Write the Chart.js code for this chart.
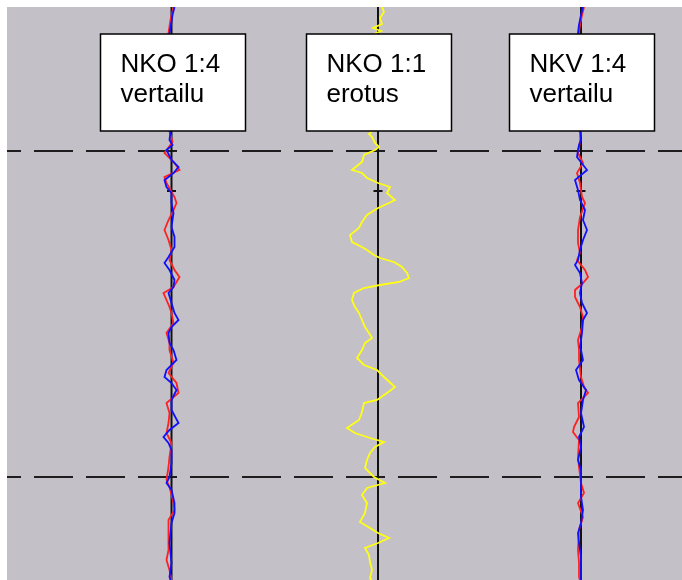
<!DOCTYPE html>
<html>
<head>
<meta charset="utf-8">
<script src="https://cdn.jsdelivr.net/npm/chart.js@4"></script>
<style>
  html, body { margin: 0; padding: 0; background: #ffffff; }
  #wrap { width: 682px; height: 580px; }
</style>
</head>
<body>
<div id="wrap"><canvas id="c" width="682" height="580"></canvas></div>
<script>
// ---- data (time axis runs downward; amplitude = offset from channel baseline) ----
const channelBase = [164.5, 371, 574];
const channelLabels = [["NKO 1:4", "vertailu"], ["NKO 1:1", "erotus"], ["NKV 1:4", "vertailu"]];
const gridLevels = [144, 470];
const tickLevels = [184];

const red1T = [0,13,26,73,124,135,146,156,163,170,176,190,196,203,213,223,233,243,253,263,270,280,286,293,300,306,316,326,336,343,356,366,376,386,396,406,416,426,436,450,460,473,480,496,503,513,523,543,553,563,573];
const red1V = [2,-1,-3,0,-2,1,-7,3,8,-7,-5,3,5,2,-3,-7,-3,0,-2,3,8,2,-8,-5,-2,0,2,-5,-2,-2,2,-3,5,7,-5,-2,-3,-5,0,-2,-3,-5,-2,2,3,-3,-3,-3,-5,-2,0];

const blue1T = [0,8,15,21,26,73,124,133,138,143,153,160,166,173,180,186,196,206,220,230,240,250,256,263,273,280,286,296,306,313,320,326,336,343,353,363,370,376,383,393,403,416,423,430,436,443,456,470,476,483,496,506,516,536,556,570,573];
const blue1V = [3,1,0,-1,-2,0,-1,-2,1,-5,0,7,2,-7,-5,0,0,2,0,3,3,-3,-7,-2,3,2,-3,0,3,7,0,-3,-2,2,5,-5,-7,0,5,0,0,7,-2,-8,-3,0,0,-2,-5,0,3,3,0,-2,0,-2,-1];

const yellowT = [0,5,11,17,21,24,27,53,93,124,127,130,136,140,143,148,155,163,166,171,176,180,186,193,196,201,208,215,221,228,235,240,243,248,251,255,260,266,271,275,278,281,286,293,300,306,313,320,326,331,336,343,351,358,363,370,380,386,393,396,405,413,421,426,431,435,440,446,453,461,470,476,481,488,496,506,515,521,526,531,536,541,548,555,563,571,573];
const yellowV = [4,6,2,4,-5,3,-4,-2,1,-6,-9,-6,-3,1,-3,-14,-16,-26,-16,-11,0,12,9,17,11,0,-11,-16,-19,-28,-26,-16,-11,-4,2,16,24,29,31,21,2,-14,-24,-26,-23,-19,-16,-13,-9,-6,-13,-16,-21,-14,-1,6,17,9,-1,-14,-16,-19,-31,-23,-8,6,-3,-8,-11,-13,-4,7,-11,-16,-11,-13,-18,-8,0,11,0,-13,-9,-8,-6,-8,-7];

const red3T = [0,8,18,26,73,124,135,146,156,166,176,190,196,210,223,236,246,253,263,270,276,283,290,300,310,320,333,343,353,370,380,386,396,410,420,425,433,450,460,476,486,496,510,523,543,556,570,573];
const red3V = [3,1,-1,-2,0,0,-1,-3,2,-4,-1,1,4,-1,-3,-3,-1,-4,4,7,2,-6,-6,-1,2,1,-3,-2,-2,0,3,7,-3,-2,-7,-8,-2,-3,-2,0,3,-3,2,-2,-3,-2,-2,-1];

const blue3T = [0,8,18,26,73,124,133,138,143,150,163,173,183,193,203,213,223,233,243,253,258,266,276,286,296,306,313,326,340,343,353,363,373,383,393,406,420,430,440,453,463,476,490,503,516,526,536,550,570,573];
const blue3V = [2,0,-2,-3,0,-1,0,-2,-3,-4,6,-6,-3,-1,4,2,6,2,-1,-3,-6,-1,1,-1,1,6,2,1,-1,0,2,-5,-2,5,2,0,3,-2,0,-3,0,0,0,2,0,-3,-2,0,0,0];

// ---- build datasets ----
function trace(ts, vs, ch) {
  return ts.map((t, i) => ({ x: channelBase[ch] + vs[i], y: t }));
}
const X_MIN = 0, X_MAX = 675, T_MIN = 0, T_MAX = 573;

const datasets = [];
const traceStyle = { showLine: true, pointRadius: 0, borderWidth: 1.8, tension: 0, fill: false };
datasets.push(Object.assign({ data: trace(yellowT, yellowV, 1), borderColor: '#ffff14', order: 1 }, traceStyle));
datasets.push(Object.assign({ data: trace(blue1T, blue1V, 0), borderColor: '#1010ff', order: 2 }, traceStyle));
datasets.push(Object.assign({ data: trace(blue3T, blue3V, 2), borderColor: '#1010ff', order: 2 }, traceStyle));
datasets.push(Object.assign({ data: trace(red1T, red1V, 0), borderColor: '#ff2020', order: 3 }, traceStyle));
datasets.push(Object.assign({ data: trace(red3T, red3V, 2), borderColor: '#ff2020', order: 3 }, traceStyle));

channelBase.forEach(cx => {
  datasets.push({ data: [{ x: cx, y: T_MIN }, { x: cx, y: T_MAX }], showLine: true, pointRadius: 0,
    borderColor: '#121212', borderWidth: 2, order: 5 });
  tickLevels.forEach(t => {
    datasets.push({ data: [{ x: cx - 4.5, y: t }, { x: cx + 4.5, y: t }], showLine: true, pointRadius: 0,
      borderColor: '#121212', borderWidth: 2, order: 4 });
  });
});
gridLevels.forEach(t => {
  datasets.push({ data: [{ x: X_MIN, y: t }, { x: X_MAX, y: t }], showLine: true, pointRadius: 0,
    borderColor: '#1e1e1e', borderWidth: 2, borderDash: [39, 13], borderDashOffset: 25, order: 6 });
});

const bgPlugin = {
  id: 'bg',
  beforeDraw(chart) {
    const { ctx, chartArea: a } = chart;
    ctx.save();
    ctx.fillStyle = '#c4c0c8';
    ctx.fillRect(a.left, a.top, a.right - a.left, a.bottom - a.top);
    ctx.restore();
  }
};

const boxPlugin = {
  id: 'boxes',
  afterDatasetsDraw(chart) {
    const { ctx } = chart;
    const xs = chart.scales.x, ys = chart.scales.y;
    const top = ys.getPixelForValue(27), bottom = ys.getPixelForValue(124);
    ctx.save();
    channelLabels.forEach((lines, i) => {
      const cx = xs.getPixelForValue(channelBase[i]);
      const left = Math.round(cx - 72) + 0.5, w = 145;
      ctx.fillStyle = '#ffffff';
      ctx.fillRect(left, top, w, bottom - top);
      ctx.strokeStyle = '#000000';
      ctx.lineWidth = 1.5;
      ctx.strokeRect(left, top, w, bottom - top);
      ctx.fillStyle = '#000000';
      ctx.font = '26px "Liberation Sans", Arial, sans-serif';
      ctx.textBaseline = 'alphabetic';
      ctx.textAlign = 'left';
      ctx.fillText(lines[0], left + 20, top + 38);
      ctx.fillText(lines[1], left + 20, top + 68);
    });
    ctx.restore();
  }
};

new Chart(document.getElementById('c'), {
  type: 'scatter',
  data: { datasets },
  options: {
    responsive: false,
    devicePixelRatio: 1,
    animation: false,
    layout: { padding: { left: 7, top: 7, right: 0, bottom: 0 } },
    plugins: { legend: { display: false }, tooltip: { enabled: false } },
    scales: {
      x: { type: 'linear', min: X_MIN, max: X_MAX, display: false },
      y: { type: 'linear', min: T_MIN, max: T_MAX, reverse: true, display: false }
    }
  },
  plugins: [bgPlugin, boxPlugin]
});
</script>
</body>
</html>
